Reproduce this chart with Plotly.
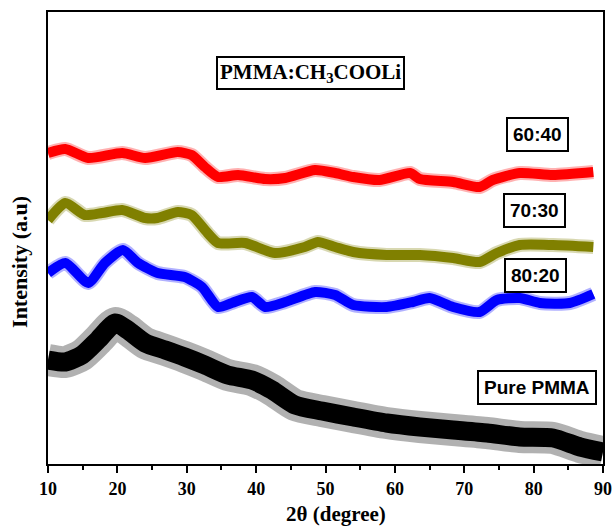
import plotly.graph_objects as go

# 2-theta positions (degree) and intensities (a.u.) for each composition
x_6040 = [10, 12.5, 15.8, 20.7, 24, 28.7, 30.7, 32.6, 34.5, 37.4, 41.3, 44.2, 48.5, 51.4,
          54, 57.8, 62.2, 63.6, 68.4, 72.2, 74.1, 78, 82.8, 88.6]
y_6040 = [311, 315, 306, 311, 306, 312, 309, 297, 287, 289, 285, 286, 294, 291,
          287, 284, 291, 285, 282, 277, 284, 291, 289, 292]

x_7030 = [10, 12.5, 15.3, 17.8, 20.7, 24, 25.8, 28.7, 30.7, 33, 34.5, 38.4, 42.7, 47, 48.9,
          51.4, 54, 58.8, 63.6, 68.4, 72.2, 74.7, 78, 82.8, 88.6]
y_7030 = [244, 261, 249, 251, 254, 246, 246, 252, 249, 231, 221, 221, 211, 217, 222,
          217, 212, 209, 209, 206, 202, 211, 219, 219, 217]

x_8020 = [10, 12.5, 15.8, 18.2, 20.8, 23, 25.8, 29.7, 32.2, 34.5, 36.5, 39.4, 41.3, 44.2,
          48.5, 51.4, 54, 58.8, 62.6, 65, 68.4, 72.2, 74.7, 78, 80.9, 85.2, 88.6]
y_8020 = [191, 201, 181, 201, 214, 201, 191, 187, 177, 157, 161, 167, 157, 162,
          172, 169, 159, 157, 162, 166, 157, 152, 164, 166, 161, 161, 170]

x_pure = [10, 12.5, 14.9, 17.2, 19.7, 21.5, 24, 26.9, 29.7, 32.6, 35.9, 39.4, 42.3, 45.6,
          49.5, 54, 58.8, 63.6, 68.4, 73.3, 78, 82.8, 86.7, 90]
y_pure = [104, 102, 109, 124, 141, 134, 121, 114, 107, 99, 89, 84, 74, 59,
          53, 47, 41, 37, 34, 31, 27, 26, 17, 12]

x_ticks = [10, 20, 30, 40, 50, 60, 70, 80, 90]

# (x, y, colour, core width, fringe width)
series = [
    (x_6040, y_6040, "#ff0000", 10, 14),
    (x_7030, y_7030, "#808000", 10, 14),
    (x_8020, y_8020, "#0000ff", 10, 14),
    (x_pure, y_pure, "#000000", 19, 32),
]

fig = go.Figure()
for xs, ys, color, core_w, halo_w in series:
    # sparse spikes around the noisy pattern
    fig.add_trace(go.Scatter(x=xs, y=ys, mode="lines", opacity=0.3,
                             line=dict(color=color, width=halo_w, shape="spline", smoothing=0.6),
                             hoverinfo="skip", showlegend=False))
    # dense body of the pattern
    fig.add_trace(go.Scatter(x=xs, y=ys, mode="lines",
                             line=dict(color=color, width=core_w, shape="spline", smoothing=0.6),
                             showlegend=False))

serif = "Liberation Serif"
sans = "Liberation Sans"

labels = [
    ("60:40", 80.6, 330),
    ("70:30", 80.1, 254),
    ("80:20", 80.2, 189),
    ("Pure PMMA", 80.5, 77),
]
for text, lx, ly in labels:
    fig.add_annotation(x=lx, y=ly, text="<b>%s</b>" % text, showarrow=False,
                       font=dict(family=sans, size=19, color="black"),
                       bordercolor="#000000", borderwidth=2, borderpad=5,
                       bgcolor="rgba(255,255,255,0)")

fig.add_annotation(x=47.8, y=391.5, text="<b>PMMA:CH<sub>3</sub>COOLi</b>", showarrow=False,
                   font=dict(family=serif, size=21, color="black"),
                   bordercolor="#000000", borderwidth=2, borderpad=2,
                   bgcolor="rgba(255,255,255,0)")

# axis titles
fig.add_annotation(xref="paper", yref="paper", x=0.519, y=-0.11,
                   xanchor="center", yanchor="middle",
                   text="<b>2θ (degree)</b>", showarrow=False,
                   font=dict(family=serif, size=21, color="black"))
fig.add_annotation(xref="paper", yref="paper", x=-0.0505, y=0.447, textangle=-90,
                   xanchor="center", yanchor="middle",
                   text="<b>Intensity (a.u)</b>", showarrow=False,
                   font=dict(family=serif, size=22, color="black"))

fig.update_layout(
    width=613, height=527,
    margin=dict(l=48, r=10, t=12, b=63),
    paper_bgcolor="white", plot_bgcolor="white",
    font=dict(family=serif, color="black"),
)
fig.update_xaxes(
    range=[10, 90], tickvals=x_ticks, ticktext=["<b>%d</b>" % t for t in x_ticks],
    tickfont=dict(family=serif, size=18, color="black"),
    ticks="outside", ticklen=7, tickwidth=2, tickcolor="black",
    minor=dict(dtick=5, ticks="outside", ticklen=4, tickwidth=2, tickcolor="black"),
    showline=True, linecolor="black", linewidth=2, mirror=True,
    showgrid=False, zeroline=False, automargin=False,
)
fig.update_yaxes(
    range=[0, 452], showticklabels=False, ticks="",
    showline=True, linecolor="black", linewidth=2, mirror=True,
    showgrid=False, zeroline=False, automargin=False,
)

fig.write_html("out.html")
